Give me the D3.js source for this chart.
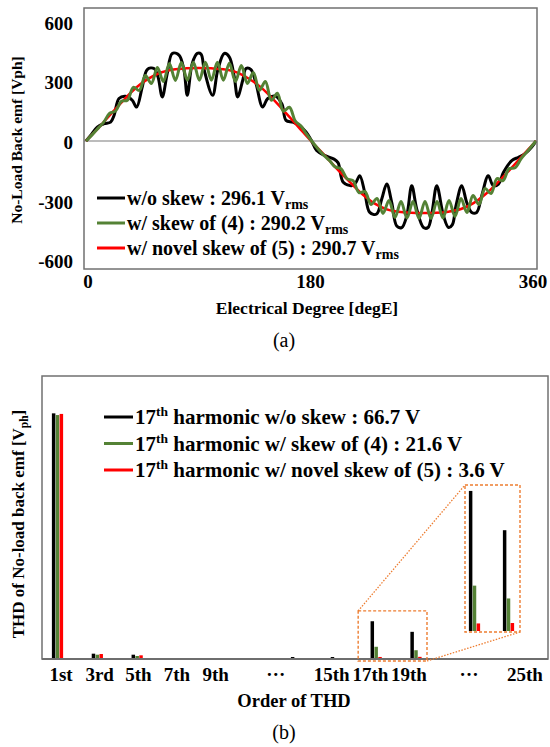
<!DOCTYPE html>
<html><head><meta charset="utf-8">
<script src="https://cdn.jsdelivr.net/npm/d3@7"></script>
<style>
body{margin:0;background:#fff;}
svg text{font-family:"Liberation Serif","Times New Roman",serif;fill:#000;}
</style></head><body>
<svg id="c" width="550" height="747"></svg>
<script>
// ---------- (a) no-load back emf waveforms: [electrical degree, V] ----------
const noSkewEmf = [[0,0],[3.7,28],[9,70],[14.4,87],[19.7,95],[22.5,130],[26.4,214],[31.7,225],[37,205],[40.5,171],[45,272],[49,360],[54.4,365],[57.6,323],[61,222],[65,340],[69,441],[74.4,433],[78.4,357],[81,230],[85,391],[89,441],[92,438],[94.6,357],[101.3,230],[105.4,357],[110.6,441],[114.6,424],[118.6,323],[121.3,222],[125.4,306],[128,365],[132,360],[136,289],[141.3,171],[145.4,214],[152,225],[156.8,185],[160,104],[165.4,95],[170.6,78],[176,45],[180.5,0],[184.5,-48],[191,-73],[198,-90],[201.6,-109],[205.8,-208],[212.5,-225],[215.8,-210],[219,-175],[223,-259],[227,-360],[232.5,-368],[236.6,-292],[240.6,-217],[244.6,-310],[248.6,-428],[252.6,-436],[256.6,-377],[260.6,-225],[264.6,-343],[270,-436],[273.6,-436],[276.8,-360],[280.6,-225],[286,-377],[290,-436],[293,-423],[296,-326],[300.6,-225],[304.6,-310],[308.6,-360],[312.5,-360],[316.6,-276],[321.8,-175],[325.8,-225],[330,-217],[334,-158],[340.6,-99],[346,-82],[351,-65],[356.6,-31],[360,0]];
const skew4Emf = [[0,0],[5,32],[10,66],[14.2,95],[19,140],[23.5,150],[28.3,200],[33.1,205],[37.9,270],[42.7,255],[47.5,330],[52.3,290],[57.1,370],[61.9,300],[66.7,390],[71.5,305],[76.3,395],[81.1,306],[85.9,397],[90.7,306],[95.5,397],[100.3,306],[105.1,397],[109.9,306],[114.7,392],[119.5,300],[124.3,380],[129.1,290],[133.9,345],[138.7,255],[143.5,300],[148.3,205],[153.1,240],[157.9,150],[162.7,170],[167.5,100],[172,75],[176,38],[180.5,0],[185,-35],[190,-70],[195,-100],[199.2,-130],[204,-140],[208.8,-190],[213.6,-200],[218.4,-260],[223.2,-255],[228,-320],[232.8,-290],[237.6,-365],[242.4,-300],[247.2,-385],[252,-305],[256.8,-388],[261.6,-305],[266.4,-390],[271.2,-305],[276,-390],[280.8,-305],[285.6,-388],[290.4,-300],[295.2,-380],[300,-290],[304.8,-360],[309.6,-275],[314.4,-320],[319.2,-240],[324,-265],[328.8,-190],[333.6,-200],[338.4,-140],[343.2,-135],[348,-90],[352,-60],[356,-30],[360,0]];
const novelSkewEmf = [[0,0],[10,66],[20,137],[30,205],[40,268],[50,314],[60,345],[70,360],[80,366],[90,368],[100,366],[110,361],[120,347],[130,315],[140,270],[150,208],[160,140],[170,70],[180,0],[190,-66],[200,-135],[210,-200],[220,-262],[230,-312],[240,-343],[250,-357],[260,-362],[270,-363],[280,-362],[290,-356],[300,-343],[310,-313],[320,-266],[330,-205],[340,-138],[350,-68],[360,0]];
const emfYTicks = [600,300,0,-300,-600];
const emfXTicks = [0,180,360];
const emfLegend = [["w/o skew : 296.1 V","#000"],["w/ skew of (4) : 290.2 V","#548235"],["w/ novel skew of (5) : 290.7 V","#ff0000"]];

// ---------- (b) harmonic orders ----------
const orders = ["1st","3rd","5th","7th","9th","11th","13th","15th","17th","19th","21st","23rd","25th"];
const orderLabels = ["1st","3rd","5th","7th","9th","15th","17th","19th","25th"];
const ellipsisAt = [["11th","13th"],["21st","23rd"]];
const noSkewHarm = [434, 9.4, 7.6, 1.2, 0.3, 0.3, 3.5, 3.5, 66.7, 48.0, 1.5, 0.3, 0.3];
const skew4Harm  = [431, 7.6, 5.3, 0.3, 0.2, 0.2, 0.4, 0.4, 21.6, 15.5, 0.3, 0.2, 0.2];
const novelHarm  = [433, 8.8, 6.5, 0.8, 0.2, 0.2, 0.3, 0.3, 3.6, 3.8, 0.2, 0.2, 0.2];
const zoomOrders = ["17th","19th"];
const harmLegend = [[" harmonic w/o skew : 66.7 V","#000"],[" harmonic w/ skew of (4) : 21.6 V","#548235"],[" harmonic w/ novel skew of (5) : 3.6 V","#ff0000"]];

const svg = d3.select("#c");
const GREEN = "#548235", ORANGE = "#ED7D31";

// ================= (a) =================
const xT = d3.scaleLinear([0,360],[86,536]);
const xTl = d3.scaleLinear([0,360],[88,533]);
const yT = d3.scaleLinear([-645,670],[269,8]);

svg.append("line").attr("x1",84).attr("x2",537).attr("y1",yT(0)).attr("y2",yT(0))
  .attr("stroke","#a6a6a6").attr("stroke-width",1.5);

const line = d3.line().x(d=>xT(d[0])).y(d=>yT(d[1])).curve(d3.curveCatmullRom.alpha(0.5));
svg.append("path").datum(noSkewEmf).attr("d",line).attr("fill","none").attr("stroke","#000").attr("stroke-width",3);
svg.append("path").datum(novelSkewEmf).attr("d",line).attr("fill","none").attr("stroke","#ff0000").attr("stroke-width",2.5);
svg.append("path").datum(skew4Emf).attr("d",line).attr("fill","none").attr("stroke",GREEN).attr("stroke-width",3);

svg.append("rect").attr("x",84).attr("y",8).attr("width",453).attr("height",261)
  .attr("fill","none").attr("stroke","#707070").attr("stroke-width",1.5);

svg.selectAll(".yt").data(emfYTicks).join("text").attr("class","yt")
  .attr("x",73).attr("y",d=>yT(d)+8).attr("text-anchor","end")
  .attr("font-size",19).attr("font-weight","bold").text(d=>d);
svg.selectAll(".xt").data(emfXTicks).join("text").attr("class","xt")
  .attr("x",d=>xTl(d)).attr("y",288).attr("text-anchor","middle")
  .attr("font-size",19).attr("font-weight","bold").text(d=>d);

svg.append("text").attr("x",307).attr("y",314).attr("text-anchor","middle")
  .attr("font-size",17.5).attr("font-weight","bold").text("Electrical Degree [degE]");
svg.append("text").attr("transform","translate(22,140) rotate(-90)").attr("text-anchor","middle")
  .attr("font-size",15.5).attr("font-weight","bold").text("No-Load Back emf [Vph]");

emfLegend.forEach((d,i)=>{
  const y = 198 + i*25;
  svg.append("line").attr("x1",97).attr("x2",125).attr("y1",y).attr("y2",y)
    .attr("stroke",d[1]).attr("stroke-width",3);
  const t = svg.append("text").attr("x",127).attr("y",y+6.5)
    .attr("font-size",20).attr("font-weight","bold");
  t.append("tspan").text(d[0]);
  t.append("tspan").attr("font-size",14).attr("dy",4).text("rms");
});

svg.append("text").attr("x",284).attr("y",347).attr("text-anchor","middle")
  .attr("font-size",20).text("(a)");

// ================= (b) =================
const xB = d3.scalePoint(orders,[57.5,535.5]);
const xBl = d3.scalePoint(orders,[61,525]);
const yB = d3.scaleLinear([0,500],[659,376]);
const series = [["noSkew",noSkewHarm,"#000"],["skew4",skew4Harm,GREEN],["novel",novelHarm,"#ff0000"]];
const off = d3.scaleBand(series.map(s=>s[0]),[-6,6]).padding(0.1);

svg.append("rect").attr("x",42).attr("y",376).attr("width",506).attr("height",283)
  .attr("fill","none").attr("stroke","#707070").attr("stroke-width",1.5);

series.forEach(s=>{
  svg.selectAll(".b"+s[0]).data(orders).join("rect").attr("class","b"+s[0])
    .attr("x",d=>xB(d)+off(s[0])).attr("width",off.bandwidth())
    .attr("y",(d,i)=>yB(s[1][i])).attr("height",(d,i)=>yB(0)-yB(s[1][i]))
    .attr("fill",s[2]);
});
svg.append("line").attr("x1",42).attr("x2",548).attr("y1",659).attr("y2",659)
  .attr("stroke","#6e6e6e").attr("stroke-width",2);

// tick labels
svg.selectAll(".ol").data(orderLabels).join("text").attr("class","ol")
  .attr("x",d=>xBl(d)).attr("y",681).attr("text-anchor","middle")
  .attr("font-size",19).attr("font-weight","bold").text(d=>d);
svg.selectAll(".el").data(ellipsisAt).join("text").attr("class","el")
  .attr("x",d=>(xBl(d[0])+xBl(d[1]))/2+2).attr("y",676).attr("text-anchor","middle")
  .attr("font-size",19).attr("font-weight","bold").text("\u2026");

svg.append("text").attr("x",294).attr("y",707).attr("text-anchor","middle")
  .attr("font-size",18.5).attr("font-weight","bold").text("Order of THD");
const yt2 = svg.append("text").attr("transform","translate(24,524) rotate(-90)").attr("text-anchor","middle")
  .attr("font-size",17).attr("font-weight","bold");
yt2.append("tspan").text("THD of No-load back emf [V");
yt2.append("tspan").attr("font-size",11.5).attr("dy",4).text("ph");
yt2.append("tspan").attr("dy",-4).text("]");

// legend
harmLegend.forEach((d,i)=>{
  const y = 417 + i*26.5;
  svg.append("line").attr("x1",104).attr("x2",133).attr("y1",y).attr("y2",y)
    .attr("stroke",d[1]).attr("stroke-width",3);
  const t = svg.append("text").attr("x",135).attr("y",y+7)
    .attr("font-size",21).attr("font-weight","bold");
  t.append("tspan").text("17");
  t.append("tspan").attr("font-size",13.5).attr("dy",-8).text("th");
  t.append("tspan").attr("dy",8).text(d[0]);
});

// zoom box in main plot
const zx0 = xB("17th")-18, zx1 = xB("19th")+11, zy0 = yB(85), zy1 = yB(-3.5);
svg.append("rect").attr("x",zx0).attr("y",zy0).attr("width",zx1-zx0).attr("height",zy1-zy0)
  .attr("fill","none").attr("stroke",ORANGE).attr("stroke-width",1.4).attr("stroke-dasharray","3,2");

// inset
const ix0=465, ix1=520, iy0=485, iy1=632;
const xI = d3.scalePoint(zoomOrders,[474.5,508.5]);
const yI = d3.scaleLinear([0,70],[631,484]);
series.forEach(s=>{
  svg.selectAll(".i"+s[0]).data(zoomOrders).join("rect").attr("class","i"+s[0])
    .attr("x",d=>xI(d)+off(s[0])).attr("width",off.bandwidth())
    .attr("y",d=>yI(s[1][orders.indexOf(d)])).attr("height",d=>yI(0)-yI(s[1][orders.indexOf(d)]))
    .attr("fill",s[2]);
});
svg.append("rect").attr("x",ix0).attr("y",iy0).attr("width",ix1-ix0).attr("height",iy1-iy0)
  .attr("fill","none").attr("stroke",ORANGE).attr("stroke-width",1.4).attr("stroke-dasharray","3,2");
svg.append("line").attr("x1",zx0).attr("y1",zy0).attr("x2",ix0).attr("y2",iy0)
  .attr("stroke",ORANGE).attr("stroke-width",1.3).attr("stroke-dasharray","1.5,1.5");
svg.append("line").attr("x1",zx1).attr("y1",zy1).attr("x2",ix1).attr("y2",iy1)
  .attr("stroke",ORANGE).attr("stroke-width",1.3).attr("stroke-dasharray","1.5,1.5");

svg.append("text").attr("x",284).attr("y",739).attr("text-anchor","middle")
  .attr("font-size",20).text("(b)");
</script>
</body></html>
